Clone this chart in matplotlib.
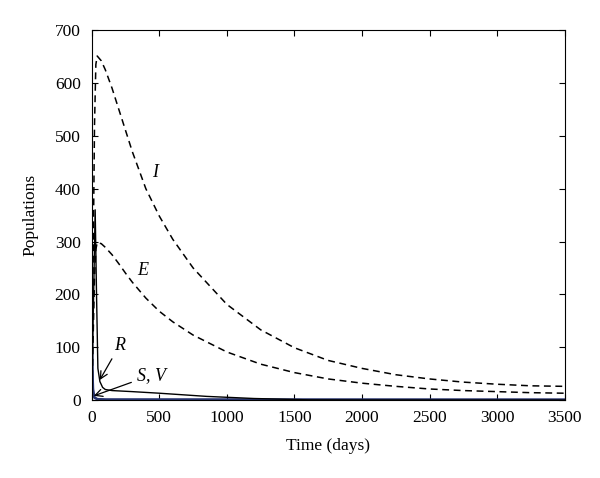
import matplotlib.pyplot as plt
import numpy as np

plt.rcParams['font.family'] = ['Liberation Serif', 'DejaVu Serif']

t_ie = [0, 10, 20, 30, 40, 70, 100, 150, 200, 250, 300, 400, 500, 600, 750,
        1000, 1250, 1500, 1750, 2000, 2250, 2500, 2750, 3000, 3250, 3500]
I = [0, 260, 520, 635, 651, 642, 625, 590, 550, 510, 470, 400, 348, 304, 250,
     181, 133, 99, 75, 60, 48, 40, 34, 30, 27, 26]
E = [0, 120, 230, 285, 298, 296, 289, 275, 258, 240, 223, 193, 168, 148, 123,
     91, 68, 52, 40, 32, 26, 21, 18, 16, 14, 13]

t_r = [0, 10, 25, 35, 45, 60, 80, 100, 150, 300, 500, 850, 1200, 1600, 2000, 3500]
R = [0, 150, 360, 200, 60, 35, 24, 20, 18, 16, 13, 7, 3, 0.5, 0.2, 0]

t_sv = [0, 5, 10, 20, 40, 100, 3500]
S = [160, 60, 20, 5, 2, 1, 0.5]
V = [120, 40, 12, 4, 2, 1, 1]

fig = plt.figure(figsize=(6, 4.78), dpi=100)
ax = fig.add_axes([0.153, 0.163, 0.788, 0.774])

navy = '#27336e'
ax.plot(t_sv, S, color=navy, lw=1.6)
ax.plot(t_sv, V, color=navy, lw=1.6)
ax.plot(t_r, R, color='black', lw=1.0)
ax.plot(t_ie, I, color='black', lw=1.1, dashes=(4.5, 3))
ax.plot(t_ie, E, color='black', lw=1.1, dashes=(4.5, 3))

ax.set_xlim(0, 3500)
ax.set_ylim(0, 700)
ax.set_xticks(np.arange(0, 3501, 500))
ax.set_yticks(np.arange(0, 701, 100))
ax.tick_params(direction='in', top=True, right=True, labelsize=12.5, length=4)
ax.tick_params(axis='x', pad=7)
ax.tick_params(axis='y', pad=8)
ax.set_xlabel('Time (days)', fontsize=12.5, labelpad=9)
ax.set_ylabel('Populations', fontsize=12.5, labelpad=12)

ax.text(466, 430, 'I', style='italic', fontsize=13, ha='center', va='center')
ax.text(377, 245, 'E', style='italic', fontsize=13, ha='center', va='center')
ax.annotate('R', xy=(59, 38), xytext=(207, 104), style='italic', fontsize=13,
            ha='center', va='center',
            arrowprops=dict(arrowstyle='->', color='black', lw=0.9, shrinkB=0))
ax.annotate('S, V', xy=(15, 8), xytext=(440, 47), style='italic', fontsize=13,
            ha='center', va='center',
            arrowprops=dict(arrowstyle='->', color='black', lw=0.9, shrinkB=0))

fig.savefig('out.png')
